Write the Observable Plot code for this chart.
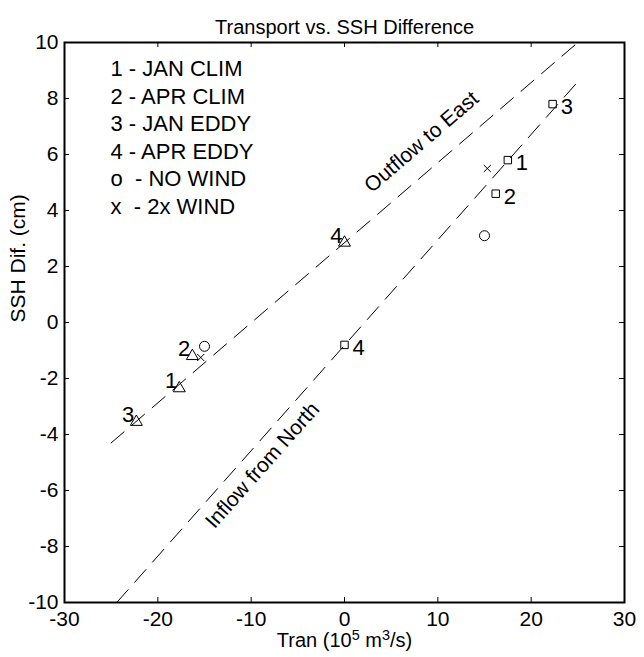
<!DOCTYPE html>
<html>
<head>
<meta charset="utf-8">
<script src="https://cdn.jsdelivr.net/npm/d3@7"></script>
<script src="https://cdn.jsdelivr.net/npm/@observablehq/plot@0.6"></script>
<style>
  body { margin: 0; background: #fff; }
  #chart svg { display: block; }
</style>
</head>
<body>
<div id="chart"></div>
<script>
// Experiment ids used as point labels
const caseLabels = ["1", "2", "3", "4"];

// Outflow to the east (triangles): transport (1e5 m^3/s) and SSH difference (cm)
const eastTran = [-17.7, -16.3, -22.3, 0.0];
const eastSSH = [-2.35, -1.2, -3.55, 2.85];

// Inflow from the north (squares)
const northTran = [17.5, 16.2, 22.3, 0.0];
const northSSH = [5.8, 4.6, 7.8, -0.8];

// Sensitivity runs: no wind (o) and doubled wind (x)
const noWindTran = [-15.0, 15.0];
const noWindSSH = [-0.85, 3.1];
const doubleWindTran = [-15.4, 15.3];
const doubleWindSSH = [-1.25, 5.5];

// Fitted relations (end points)
const eastFitTran = [-25, 25];
const eastFitSSH = [-4.3, 10];
const northFitTran = [-24.4, 25];
const northFitSSH = [-10, 8.6];

// Line annotations
const lineLabelText = ["Outflow to East", "Inflow from North"];
const lineLabelTran = [8.25, -8.8];
const lineLabelSSH = [6.45, -5.1];

// Key text
const legendLines = [
  "1 - JAN CLIM",
  "2 - APR CLIM",
  "3 - JAN EDDY",
  "4 - APR EDDY",
  "o\u00a0\u00a0- NO WIND",
  "x\u00a0\u00a0- 2x WIND"
];

const xTicks = [-30, -20, -10, 0, 10, 20, 30];
const yTicks = [-10, -8, -6, -4, -2, 0, 2, 4, 6, 8, 10];

const titleText = "Transport vs. SSH Difference";
const xLabelText = "Tran (10^5 m^3/s)";
const yLabelText = "SSH Dif. (cm)";

// ---- layout ----
const W = 644, H = 657;
const ML = 64, MR = 20, MT = 42, MB = 55;
const innerW = W - ML - MR, innerH = H - MT - MB;
const FONT = "'Liberation Sans', Arial, Helvetica, sans-serif";
const TICK = 5;

const east = caseLabels.map((c, i) => ({c, tran: eastTran[i], ssh: eastSSH[i]}));
const north = caseLabels.map((c, i) => ({c, tran: northTran[i], ssh: northSSH[i]}));
const noWind = noWindTran.map((t, i) => ({tran: t, ssh: noWindSSH[i]}));
const doubleWind = doubleWindTran.map((t, i) => ({tran: t, ssh: doubleWindSSH[i]}));
const eastFit = eastFitTran.map((t, i) => ({tran: t, ssh: eastFitSSH[i]}));
const northFit = northFitTran.map((t, i) => ({tran: t, ssh: northFitSSH[i]}));

const xDomain = [-30, 30], yDomain = [-10, 10];
// on-screen angle of a fitted line
function screenAngle(fit) {
  const sx = innerW / (xDomain[1] - xDomain[0]);
  const sy = innerH / (yDomain[1] - yDomain[0]);
  const dx = (fit[1].tran - fit[0].tran) * sx;
  const dy = (fit[1].ssh - fit[0].ssh) * sy;
  return -Math.atan2(dy, dx) * 180 / Math.PI;
}
const lineLabels = lineLabelText.map((t, i) => ({
  text: t, tran: lineLabelTran[i], ssh: lineLabelSSH[i],
  angle: screenAngle(i === 0 ? eastFit : northFit)
}));

const dash = "17,10";
const plain = (d) => String(d); // ASCII hyphen for negatives

const chart = Plot.plot({
  width: W,
  height: H,
  marginLeft: ML,
  marginRight: MR,
  marginTop: MT,
  marginBottom: MB,
  style: {fontFamily: FONT, fontSize: "21px", color: "black", background: "white"},
  x: {domain: xDomain, ticks: xTicks, label: null},
  y: {domain: yDomain, ticks: yTicks, label: null},
  marks: [
    // fitted lines
    Plot.line(eastFit, {x: "tran", y: "ssh", stroke: "black", strokeWidth: 1, strokeDasharray: dash, clip: true}),
    Plot.line(northFit, {x: "tran", y: "ssh", stroke: "black", strokeWidth: 1, strokeDasharray: dash, clip: true}),
    Plot.text(lineLabels, {x: "tran", y: "ssh", text: "text", rotate: (d) => d.angle, fontSize: 21, fill: "black"}),

    // points
    Plot.dot(east, {x: "tran", y: "ssh", symbol: "triangle", r: 4.45, stroke: "black", fill: "none", strokeWidth: 1}),
    Plot.dot(north, {x: "tran", y: "ssh", symbol: "square", r: 4.2, stroke: "black", fill: "none", strokeWidth: 1}),
    Plot.dot(noWind, {x: "tran", y: "ssh", symbol: "circle", r: 5, stroke: "black", fill: "none", strokeWidth: 1}),
    Plot.dot(doubleWind, {x: "tran", y: "ssh", symbol: "times", r: 3.3, stroke: "black", strokeWidth: 1}),

    // case numbers
    Plot.text(east, {x: "tran", y: "ssh", text: "c", textAnchor: "end", dx: -2, dy: -7, fontSize: 22, fill: "black"}),
    Plot.text(north, {x: "tran", y: "ssh", text: "c", textAnchor: "start", dx: 8, dy: 3, fontSize: 22, fill: "black"}),

    // key
    Plot.text([legendLines.join("\n")], {frameAnchor: "top-left", dx: 46, dy: 14, lineAnchor: "top", lineHeight: 1.25, fontSize: 22, fill: "black"}),

    // tick labels
    Plot.axisX(xTicks, {anchor: "bottom", tickSize: 0, tickPadding: 9, tickFormat: plain, fontSize: 21, label: null}),
    Plot.axisY(yTicks, {anchor: "left", tickSize: 0, tickPadding: 6, tickFormat: plain, fontSize: 21, label: null}),

    // inward ticks on all four sides
    Plot.tickX(xTicks, {x: (d) => d, insetTop: innerH - TICK, stroke: "black", strokeWidth: 1}),
    Plot.tickX(xTicks, {x: (d) => d, insetBottom: innerH - TICK, stroke: "black", strokeWidth: 1}),
    Plot.tickY(yTicks, {y: (d) => d, insetRight: innerW - TICK, stroke: "black", strokeWidth: 1}),
    Plot.tickY(yTicks, {y: (d) => d, insetLeft: innerW - TICK, stroke: "black", strokeWidth: 1}),

    Plot.frame({stroke: "black", strokeWidth: 2}),

    // titles
    Plot.text([titleText], {frameAnchor: "top", dy: -23, fontSize: 20, fill: "black"}),
    Plot.text([xLabelText], {frameAnchor: "bottom", dy: 44, fontSize: 20, fill: "black", className: "xlabel"}),
    Plot.text([yLabelText], {frameAnchor: "left", dx: -46, rotate: -90, fontSize: 21, fill: "black"})
  ]
});

// render the x label exponents as superscripts
d3.select(chart).selectAll("g.xlabel text").each(function () {
  const t = d3.select(this);
  const parts = t.text().split(/\^(\d)/);
  t.text(null);
  let raised = false;
  parts.forEach((p, i) => {
    if (i % 2 === 1) {
      t.append("tspan").attr("dy", "-0.45em").attr("font-size", "0.72em").text(p);
      raised = true;
    } else if (p) {
      const s = t.append("tspan").text(p);
      if (raised) { s.attr("dy", "0.324em"); raised = false; }
    }
  });
});

document.getElementById("chart").appendChild(chart);
</script>
</body>
</html>
